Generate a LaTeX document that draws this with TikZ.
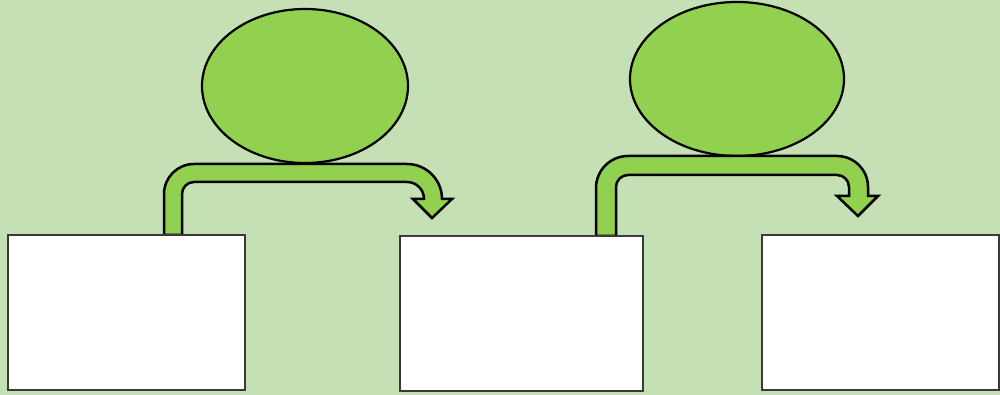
\documentclass[tikz,border=0pt]{standalone}
\usetikzlibrary{shapes.geometric}
\definecolor{bg}{HTML}{C5E0B4}
\definecolor{leaf}{HTML}{92D050}
\definecolor{edge}{HTML}{3A3A3A}
\tikzset{
  card/.style={draw=edge, fill=white, line width=2.5pt, rectangle, inner sep=0pt, minimum width=237pt, minimum height=155pt},
  blob/.style={draw=black, fill=leaf, line width=2.2pt, ellipse, inner sep=0pt},
  bentarrow/.style={draw=black, fill=leaf, line width=2.5pt, line join=miter}
}
\begin{document}
\begin{tikzpicture}[x=1pt,y=1pt]
\fill[bg] (0,0) rectangle (1000,395);
\useasboundingbox (0,0) rectangle (1000,395);
% ellipses
\node[blob, minimum width=206pt, minimum height=154pt] (e1) at (305,309) {};
\node[blob, minimum width=214pt, minimum height=154pt] (e2) at (737,316) {};
% arrows
\draw[bentarrow] (164,160) -- (164,201) arc[start angle=180, end angle=90, radius=30]
  -- (407,231) arc[start angle=90, end angle=0, radius=35]
  -- (452,196) -- (432,177) -- (413,196) -- (424,196)
  arc[start angle=0, end angle=90, radius=17]
  -- (194,213) arc[start angle=90, end angle=180, radius=12]
  -- (182,160) -- cycle;
\draw[bentarrow] (596,159) -- (596,207) arc[start angle=180, end angle=90, radius=32]
  -- (837,239) arc[start angle=90, end angle=0, radius=31]
  -- (868,199) -- (878,199) -- (858,179) -- (837,199) -- (849,199) -- (849,208)
  arc[start angle=0, end angle=90, radius=12]
  -- (628,220) arc[start angle=90, end angle=180, radius=12]
  -- (616,159) -- cycle;
% boxes
\node[card] (b1) at (126.5,82.5) {};
\node[card, minimum width=243pt] (b2) at (521.5,81.5) {};
\node[card] (b3) at (880.5,82.5) {};
\end{tikzpicture}
\end{document}
